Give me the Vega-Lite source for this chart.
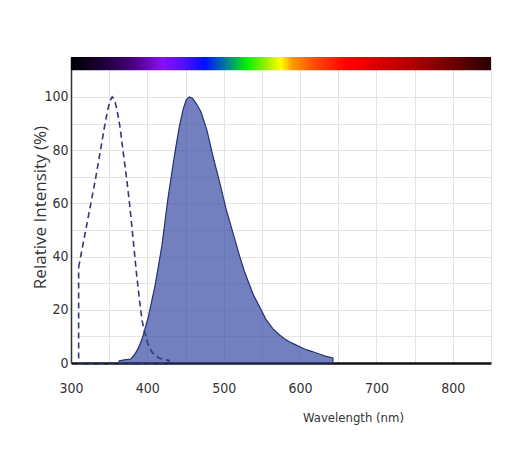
{
  "$schema": "https://vega.github.io/schema/vega-lite/v6.json",
  "width": 420,
  "height": 306,
  "autosize": {"type": "none"},
  "padding": {"left": 71, "top": 57, "right": 19, "bottom": 87},
  "background": "white",
  "config": {"view": {"stroke": null}, "font": "Open Sans"},
  "datasets": {
    "excitation": [
      {"wl": 310, "v": 36}, {"wl": 314, "v": 42}, {"wl": 320, "v": 51}, {"wl": 326, "v": 60},
      {"wl": 332, "v": 69}, {"wl": 338, "v": 79}, {"wl": 344, "v": 89}, {"wl": 348, "v": 95},
      {"wl": 351, "v": 98.5}, {"wl": 354, "v": 100}, {"wl": 357, "v": 99}, {"wl": 360, "v": 95.5},
      {"wl": 364, "v": 89}, {"wl": 368, "v": 80}, {"wl": 373, "v": 69}, {"wl": 377, "v": 59},
      {"wl": 381, "v": 47.5}, {"wl": 386, "v": 33}, {"wl": 390, "v": 23}, {"wl": 393, "v": 16},
      {"wl": 397, "v": 11}, {"wl": 401, "v": 7}, {"wl": 405, "v": 4.5}, {"wl": 410, "v": 2.8},
      {"wl": 416, "v": 1.8}, {"wl": 422, "v": 1.3}, {"wl": 428, "v": 1}
    ],
    "emission": [
      {"wl": 363, "v": 0.8}, {"wl": 370, "v": 1.2}, {"wl": 378, "v": 1.5}, {"wl": 383, "v": 3},
      {"wl": 388, "v": 5.5}, {"wl": 393, "v": 9}, {"wl": 401, "v": 17}, {"wl": 410, "v": 29},
      {"wl": 419, "v": 44}, {"wl": 427, "v": 62}, {"wl": 436, "v": 79}, {"wl": 442, "v": 89},
      {"wl": 447, "v": 95.5}, {"wl": 451, "v": 99}, {"wl": 455, "v": 100}, {"wl": 459, "v": 99.5},
      {"wl": 464, "v": 97.5}, {"wl": 470, "v": 94.5}, {"wl": 478, "v": 87.5}, {"wl": 486, "v": 77.6},
      {"wl": 495, "v": 67.5}, {"wl": 503, "v": 58}, {"wl": 512, "v": 49}, {"wl": 521, "v": 40},
      {"wl": 527, "v": 34.5}, {"wl": 533, "v": 30}, {"wl": 539, "v": 25.5}, {"wl": 549, "v": 20},
      {"wl": 555, "v": 16.5}, {"wl": 564, "v": 13}, {"wl": 572, "v": 10.8}, {"wl": 579, "v": 9.2},
      {"wl": 586, "v": 8}, {"wl": 593, "v": 7}, {"wl": 601, "v": 5.9}, {"wl": 608, "v": 5},
      {"wl": 616, "v": 4.3}, {"wl": 625, "v": 3.4}, {"wl": 633, "v": 2.6}, {"wl": 643, "v": 1.9}
    ],
    "band": [{"wl": 300, "wl2": 850, "v": 110, "v2": 115}]
  },
  "encoding": {
    "x": {
      "field": "wl",
      "type": "quantitative",
      "scale": {"domain": [300, 850], "nice": false, "zero": false},
      "axis": {
        "values": [300, 350, 400, 450, 500, 550, 600, 650, 700, 750, 800, 850],
        "labelExpr": "datum.value % 100 === 0 ? datum.label : ''",
        "grid": true,
        "gridColor": "#e4e4e4",
        "gridWidth": 1,
        "tickSize": 0,
        "domainColor": "#111111",
        "domainWidth": 2.5,
        "labelFont": "Liberation Sans Narrow, DejaVu Sans Condensed, Roboto Condensed, Liberation Sans",
        "labelFontSize": 14,
        "labelColor": "#333333",
        "labelPadding": 18,
        "labelFlush": false,
        "labelOverlap": false,
        "title": "Wavelength (nm)",
        "titleFont": "Liberation Sans Narrow, DejaVu Sans Condensed, Roboto Condensed, Liberation Sans",
        "titleFontSize": 13,
        "titleFontWeight": "normal",
        "titleColor": "#333333",
        "titleX": 282,
        "titleY": 54,
        "titleBaseline": "middle",
        "titleAlign": "center"
      }
    },
    "y": {
      "field": "v",
      "type": "quantitative",
      "scale": {"domain": [0, 115], "nice": false},
      "axis": {
        "values": [0, 10, 20, 30, 40, 50, 60, 70, 80, 90, 100],
        "labelExpr": "datum.value % 20 === 0 ? datum.label : ''",
        "grid": true,
        "gridColor": "#e4e4e4",
        "gridWidth": 1,
        "tickSize": 0,
        "domainColor": "#333333",
        "domainWidth": 1.5,
        "labelFont": "Liberation Sans Narrow, DejaVu Sans Condensed, Roboto Condensed, Liberation Sans",
        "labelFontSize": 14,
        "labelColor": "#333333",
        "labelPadding": 3,
        "labelOverlap": false,
        "title": "Relative Intensity (%)",
        "titleFont": "Open Sans",
        "titleFontSize": 17,
        "titleFontWeight": "normal",
        "titleColor": "#333333",
        "titleX": -31,
        "titleY": 150,
        "titleBaseline": "middle",
        "titleAlign": "center"
      }
    }
  },
  "layer": [
    {
      "data": {"name": "emission"},
      "mark": {"type": "area", "fill": "#384aa5", "fillOpacity": 0.7, "stroke": "#28306e", "strokeWidth": 1.2}
    },
    {
      "data": {"name": "excitation"},
      "mark": {"type": "area", "fill": "#ffffff", "fillOpacity": 0, "stroke": "#2d3a7c", "strokeWidth": 1.6, "strokeDash": [6, 4]}
    },
    {
      "data": {"name": "band"},
      "mark": {
        "type": "rect",
        "fill": {
          "gradient": "linear", "x1": 0, "y1": 0, "x2": 1, "y2": 0,
          "stops": [
            {"offset": 0, "color": "#000000"},
            {"offset": 0.073, "color": "#1c0036"},
            {"offset": 0.145, "color": "#45007a"},
            {"offset": 0.218, "color": "#8a10f5"},
            {"offset": 0.273, "color": "#4a10f5"},
            {"offset": 0.318, "color": "#0010ff"},
            {"offset": 0.364, "color": "#0070a8"},
            {"offset": 0.418, "color": "#00f000"},
            {"offset": 0.473, "color": "#b8f000"},
            {"offset": 0.5, "color": "#ffff00"},
            {"offset": 0.527, "color": "#ff9800"},
            {"offset": 0.582, "color": "#ff4a00"},
            {"offset": 0.655, "color": "#ff0000"},
            {"offset": 0.836, "color": "#a00000"},
            {"offset": 1, "color": "#2a0000"}
          ]
        }
      },
      "encoding": {
        "x2": {"field": "wl2"},
        "y2": {"field": "v2"}
      }
    }
  ]
}
